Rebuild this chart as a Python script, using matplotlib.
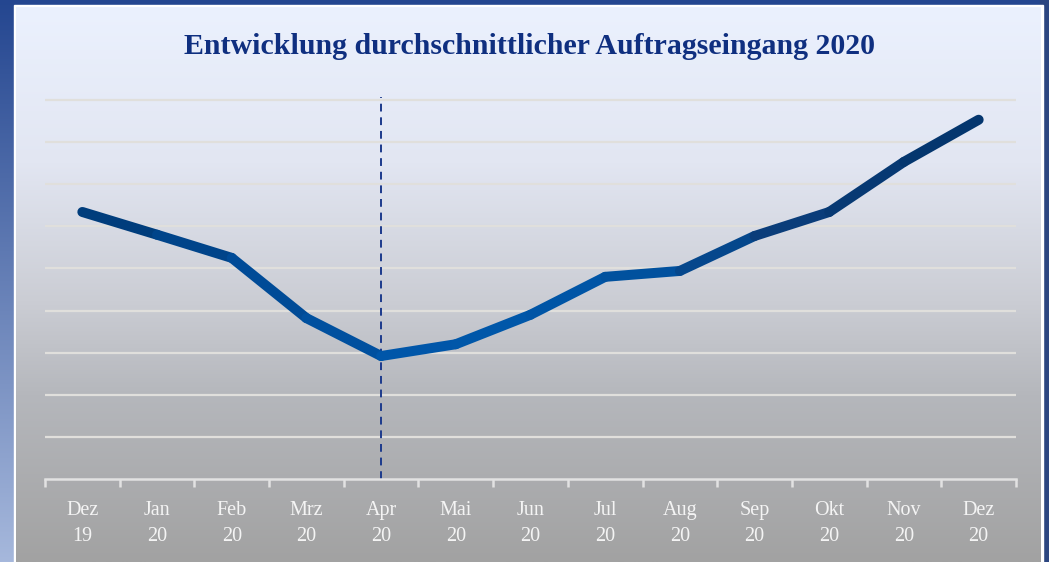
import matplotlib.pyplot as plt
import numpy as np
from matplotlib.collections import LineCollection
from matplotlib.colors import LinearSegmentedColormap, to_rgb

months = ["Dez", "Jan", "Feb", "Mrz", "Apr", "Mai", "Jun",
          "Jul", "Aug", "Sep", "Okt", "Nov", "Dez"]
years = ["19", "20", "20", "20", "20", "20", "20",
         "20", "20", "20", "20", "20", "20"]
orders = [6.34, 5.80, 5.25, 3.82, 2.92, 3.20, 3.90,
          4.80, 4.94, 5.77, 6.34, 7.53, 8.53]
marker_month = 4  # Apr 20

W, H = 1049, 562
fig = plt.figure(figsize=(W / 100, H / 100), dpi=100)

# background: blue frame + white border + light-to-gray panel
bg = fig.add_axes([0, 0, 1, 1])
bg.axis("off")


def vgrad(stops, colors, n=512):
    t = np.linspace(0, 1, n)
    rgb = np.array([to_rgb(c) for c in colors])
    img = np.column_stack([np.interp(t, stops, rgb[:, k]) for k in range(3)])
    return img[:, None, :].repeat(2, axis=1)


bg.imshow(vgrad([0, 1], ["#244690", "#a6b8dc"]), extent=(0, W, H, 0),
          aspect="auto", zorder=0)
bg.add_patch(plt.Rectangle((1040, 0), 9, H, color="#2c4680", zorder=1))
bg.add_patch(plt.Rectangle((14, 5), 1029, H, color="white", zorder=2))
bg.imshow(vgrad([0, 0.28, 0.53, 0.70, 1],
                ["#ebf1fe", "#e2e6f2", "#cbcdd4", "#b5b7bc", "#a2a2a2"]),
          extent=(16, 1041, H, 7), aspect="auto", zorder=3)
bg.set_xlim(0, W)
bg.set_ylim(H, 0)

ax = fig.add_axes([45 / W, 1 - 479 / H, 971 / W, 382 / H])
ax.patch.set_alpha(0)
n = len(orders)
x = np.arange(n)
ax.set_xlim(-0.5, n - 0.5)
ax.set_ylim(0, 9.07)

for s in ["top", "right", "left"]:
    ax.spines[s].set_visible(False)
ax.spines["bottom"].set_color("#e2e2e2")
ax.spines["bottom"].set_linewidth(1.8)

ax.set_yticks(np.arange(1, 10))
ax.tick_params(axis="y", length=0, labelleft=False)
ax.yaxis.grid(True, color="#e0dfdc", linewidth=1.6)
ax.set_axisbelow(True)

ax.set_xticks(np.arange(n + 1) - 0.5)
ax.tick_params(axis="x", which="major", length=6, width=1.8,
               color="#e2e2e2", labelbottom=False)
ax.set_xticks(x, minor=True)
ax.set_xticklabels([f"{m}\n{y}" for m, y in zip(months, years)], minor=True)
ax.tick_params(axis="x", which="minor", length=0, pad=16,
               labelcolor="#f4f4f4", labelsize=14.5)
for lbl in ax.get_xticklabels(minor=True):
    lbl.set_fontfamily("Liberation Serif")
    lbl.set_linespacing(1.5)

ax.axvline(marker_month, color="#1c3a8c", linewidth=1.4,
           linestyle=(0, (4, 3)), zorder=2)

cmap = LinearSegmentedColormap.from_list(
    "line", ["#003a76", "#004a96", "#0058ab", "#0054a4", "#0a3c78", "#02346c"])
pts = np.column_stack([x, orders])
segs = np.stack([pts[:-1], pts[1:]], axis=1)
mids = (x[:-1] + 0.5) / (n - 1)
lc = LineCollection(segs, colors=cmap(mids), linewidths=7.2,
                    capstyle="round", joinstyle="round", zorder=3)
ax.add_collection(lc)

fig.text(530 / W, 1 - 47 / H,
         "Entwicklung durchschnittlicher Auftragseingang 2020",
         ha="center", va="center", fontsize=21.5, fontweight="bold",
         fontfamily="Liberation Serif", color="#0f2f80")

fig.savefig("out.png", dpi=100)
